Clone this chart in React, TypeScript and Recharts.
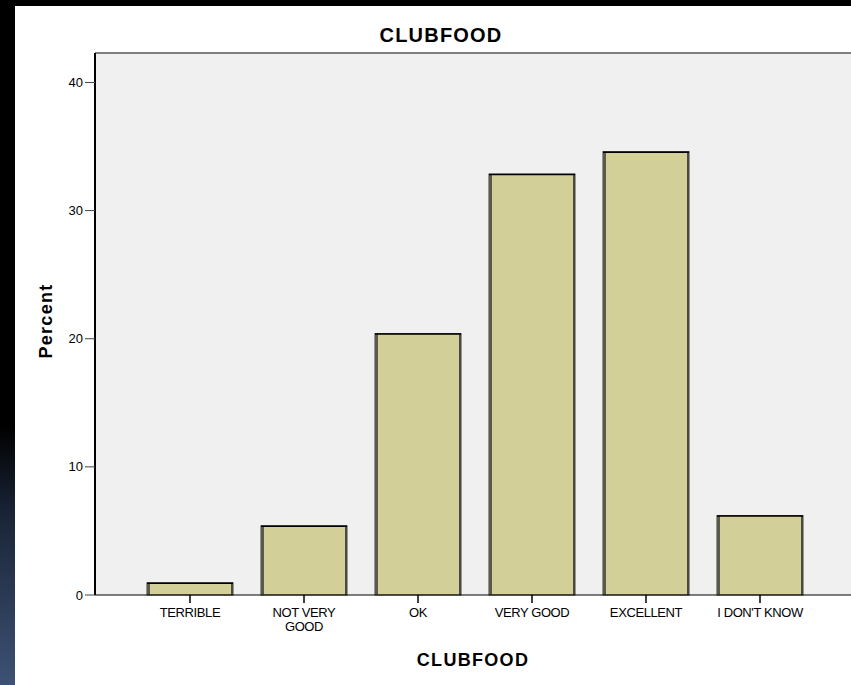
import { Bar, BarChart, CartesianGrid, ReferenceLine, XAxis, YAxis } from 'recharts';

const categories = ['TERRIBLE', 'NOT VERY\nGOOD', 'OK', 'VERY GOOD', 'EXCELLENT', "I DON'T KNOW"];
const percents = [0.95, 5.4, 20.4, 32.85, 34.6, 6.2];
const yTicks = [0, 10, 20, 30, 40];
const yMax = 42.3;

const data = categories.map((name, i) => ({ name, percent: percents[i] }));

const font = '"Liberation Sans", Arial, sans-serif';

function CategoryTick({ x, y, payload }: any) {
  const lines = String(payload.value).split('\n');
  return (
    <text x={x} y={y} textAnchor="middle" fontFamily={font} fontSize={13} fill="#000" letterSpacing={-0.4}>
      {lines.map((line, i) => (
        <tspan key={line} x={x} dy={i === 0 ? 12 : 14}>
          {line}
        </tspan>
      ))}
    </text>
  );
}

function ShadedBar({ x, y, width, height }: any) {
  if (!height || height <= 0) return null;
  return (
    <g>
      <rect x={x} y={y} width={width} height={height} fill="#d3cf98" stroke="#3c3c34" strokeWidth={1} />
      <rect x={x} y={y} width={3} height={height} fill="#5a5a4c" />
      <rect x={x + width - 2} y={y} width={2} height={height} fill="#4a4a40" />
      <line x1={x} x2={x + width} y1={y + 0.5} y2={y + 0.5} stroke="#000" strokeWidth={1.5} />
    </g>
  );
}

export default function App() {
  return (
    <div
      style={{
        position: 'absolute',
        left: 0,
        top: 0,
        width: 851,
        height: 685,
        overflow: 'hidden',
        background: 'linear-gradient(to bottom, #000 0%, #000 62%, #1a2436 75%, #3d5274 100%)',
      }}
    >
      <div style={{ position: 'absolute', left: 15, top: 6, width: 840, height: 690, background: '#fff' }} />
      <div
        style={{
          position: 'absolute',
          left: 0,
          top: 24,
          width: 882,
          textAlign: 'center',
          fontFamily: font,
          fontWeight: 'bold',
          fontSize: 20,
          letterSpacing: 1.2,
          color: '#000',
        }}
      >
        CLUBFOOD
      </div>
      <div style={{ position: 'absolute', left: 0, top: 0 }}>
        <BarChart width={851} height={685} data={data} margin={{ top: 53, right: 0, bottom: 0, left: 0 }}>
          <CartesianGrid fill="#f0f0f0" horizontal={false} vertical={false} />
          <ReferenceLine y={yMax} stroke="#7f7f7f" strokeWidth={2} ifOverflow="visible" />
          <XAxis
            dataKey="name"
            height={90}
            padding={{ left: 38, right: 34 }}
            tickSize={8}
            tickLine={{ stroke: '#000', strokeWidth: 1.5 }}
            axisLine={{ stroke: '#000', strokeWidth: 1 }}
            tick={<CategoryTick />}
            interval={0}
            label={{
              value: 'CLUBFOOD',
              position: 'insideBottom',
              offset: 19,
              style: { fontFamily: font, fontWeight: 'bold', fontSize: 18, fill: '#000', letterSpacing: 1.3 },
            }}
          />
          <YAxis
            width={95}
            domain={[0, yMax]}
            ticks={yTicks}
            tickSize={10}
            tickMargin={2}
            tickLine={{ stroke: '#444', strokeWidth: 1 }}
            axisLine={{ stroke: '#000', strokeWidth: 2 }}
            tick={{ fontFamily: font, fontSize: 13, fill: '#000' }}
            label={{
              value: 'Percent',
              angle: -90,
              position: 'center',
              dx: -2,
              dy: -3,
              style: { fontFamily: font, fontWeight: 'bold', fontSize: 18, fill: '#000', letterSpacing: 1.3 },
            }}
          />
          <Bar dataKey="percent" barSize={86} shape={<ShadedBar />} isAnimationActive={false} />
        </BarChart>
      </div>
    </div>
  );
}
